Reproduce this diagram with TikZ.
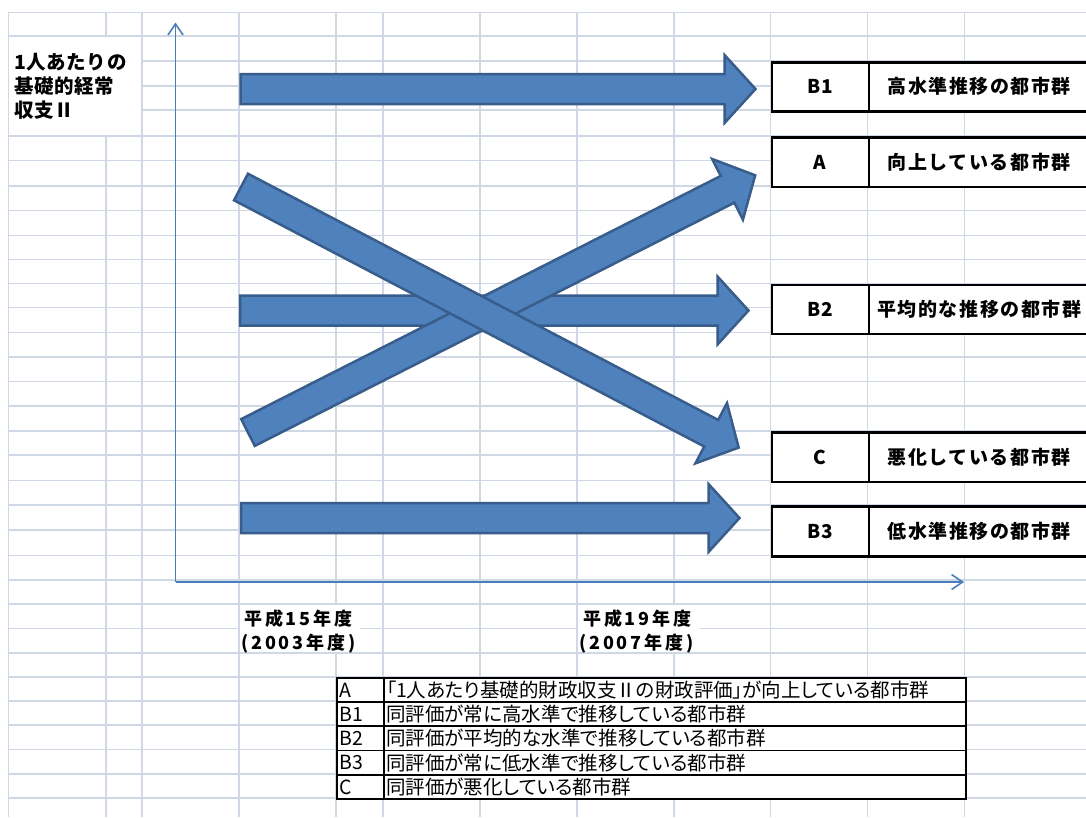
\documentclass[tikz,border=0pt]{standalone}
\usepackage{fontspec}
\setmainfont{Noto Sans CJK JP}
\newfontfamily\jpbox{Noto Sans CJK JP}[LetterSpace=8]
\newfontfamily\jpyear{Noto Sans CJK JP}[LetterSpace=16]
\newfontfamily\jpylab{Noto Sans CJK JP}[LetterSpace=3]
\newfontfamily\jpleg{Noto Sans CJK JP}[RawFeature=+palt]
\usetikzlibrary{arrows.meta}
\definecolor{gridc}{HTML}{D0D7E5}
\definecolor{arrfill}{HTML}{4F81BD}
\definecolor{arrline}{HTML}{385D8A}
\definecolor{axisc}{HTML}{4A7EBB}

\newcommand\blockarr[4]{%
  \begin{scope}[shift={#2}, rotate=#3]
    \draw[blockarrow] (0,-15) -- ({#4-31},-15) -- ({#4-31},-34) -- (#4,0)
      -- ({#4-31},34) -- ({#4-31},15) -- (0,15) -- cycle;
    \coordinate (#1) at (#4,0);
  \end{scope}}

\begin{document}
\begin{tikzpicture}[x=1pt,y=-1pt,
  gridline/.style={gridc, line width=1.6pt},
  axis/.style={axisc, line width=1.6pt, -{Straight Barb[length=11pt,width=15pt]}},
  blockarrow/.style={fill=arrfill, draw=arrline, line width=2.5pt, line join=miter},
  catcell/.style={draw=black, line width=2.5pt, fill=white, minimum height=#1,
    inner sep=0pt, anchor=north west, font=\jpbox\bfseries\fontsize{19}{19}\selectfont},
  legcell/.style={draw=black, line width=1.8pt, fill=white, minimum height=24pt,
    inner xsep=2.5pt, inner ysep=0pt, align=left, anchor=north west,
    font=\jpleg\fontsize{19.5}{19.5}\selectfont},
  ylab/.style={anchor=base west, inner sep=0pt, font=\jpylab\bfseries\fontsize{19.5}{19.5}\selectfont},
  yearlab/.style={anchor=base west, inner sep=0pt, font=\jpyear\bfseries\fontsize{18}{18}\selectfont}
]
\useasboundingbox (0,0) rectangle (1086,817);
\fill[white] (0,0) rectangle (1086,817);
\clip (0,0) rectangle (1086,817);

% spreadsheet grid
\foreach \x in {8.3,106,142,239,336,383,480,577,674,770.5,867.5,964.5}
  \draw[gridline] (\x,12.5) -- (\x,817);
\foreach \y in {12.5,36,61,86,110,136,160.5,186,210.5,235.5,259.5,283.5,307.5,332.5,357,381.5,406,431,455,480.5,505,530,555.5,580,604,628.5,653,677,701,725,749.5,774,798}
  \draw[gridline] (8.3,\y) -- (1086,\y);
% merged / text cells
\fill[white] (9.3,37) rectangle (141,135.2);
\fill[white] (240,605) rectangle (360,652);
\fill[white] (578,605) rectangle (700,652);

% axes
\coordinate (O) at (175.5,582);
\coordinate (ytip) at (175.5,22.5);
\coordinate (xtip) at (964,582);
\draw[axis] (O) -- (ytip);
\draw[axis] (O) -- (xtip);

% block arrows
\blockarr{arrB1}{(240.5,89)}{0}{515}
\blockarr{arrB2}{(240,310.5)}{0}{508.5}
\blockarr{arrB3}{(241,518)}{0}{498.5}
\blockarr{arrA}{(248,432.5)}{26.89}{568.7}
\blockarr{arrC}{(241,187)}{-27.64}{561.8}

% category boxes
\node[catcell=49, minimum width=97] (b1l) at (770.5,61) {B1};
\node[catcell=49, minimum width=221] (b1r) at (867.5,61) {高水準推移の都市群};
\node[catcell=49.5, minimum width=97] (al) at (770.5,136) {A};
\node[catcell=49.5, minimum width=221] (ar) at (867.5,136) {向上している都市群};
\node[catcell=49, minimum width=97] (b2l) at (770.5,283.5) {B2};
\node[catcell=49, minimum width=221] (b2r) at (867.5,283.5) {平均的な推移の都市群};
\node[catcell=49.5, minimum width=97] (cl) at (770.5,431) {C};
\node[catcell=49.5, minimum width=221] (cr) at (867.5,431) {悪化している都市群};
\node[catcell=50, minimum width=97] (b3l) at (770.5,505) {B3};
\node[catcell=50, minimum width=221] (b3r) at (867.5,505) {低水準推移の都市群};

% axis labels
\node[ylab] (yl1) at (14,69.5) {1人あたりの};
\node[ylab] (yl2) at (14,93.5) {基礎的経常};
\node[ylab] (yl3) at (14,117) {収支Ⅱ};
\node[yearlab] (y15a) at (244,625.5) {平成15年度};
\node[yearlab] (y15b) at (241,649.5) {(2003年度)};
\node[yearlab] (y19a) at (583,625.5) {平成19年度};
\node[yearlab] (y19b) at (579,649.5) {(2007年度)};

% legend table
\node[legcell, text width=42pt] (lA) at (336,677) {A};
\node[legcell, text width=577pt] (tA) at (383,677) {「1人あたり基礎的財政収支Ⅱの財政評価」が向上している都市群};
\node[legcell, text width=42pt] (lB1) at (336,701) {B1};
\node[legcell, text width=577pt] (tB1) at (383,701) {同評価が常に高水準で推移している都市群};
\node[legcell, text width=42pt, minimum height=24.5pt] (lB2) at (336,725) {B2};
\node[legcell, text width=577pt, minimum height=24.5pt] (tB2) at (383,725) {同評価が平均的な水準で推移している都市群};
\node[legcell, text width=42pt, minimum height=24.5pt] (lB3) at (336,749.5) {B3};
\node[legcell, text width=577pt, minimum height=24.5pt] (tB3) at (383,749.5) {同評価が常に低水準で推移している都市群};
\node[legcell, text width=42pt] (lC) at (336,774) {C};
\node[legcell, text width=577pt] (tC) at (383,774) {同評価が悪化している都市群};
\end{tikzpicture}
\end{document}
